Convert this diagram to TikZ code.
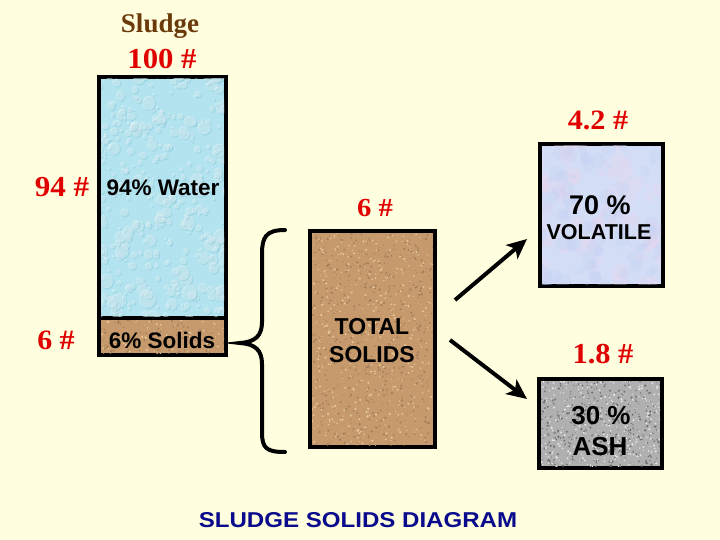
\documentclass[tikz,border=0pt]{standalone}
\usepackage{fontspec}
\setmainfont{Liberation Serif}
\setsansfont{Liberation Sans}
\usetikzlibrary{arrows.meta}
\definecolor{bg}{HTML}{FFFFE0}
\definecolor{redtxt}{HTML}{E00000}
\definecolor{browntxt}{HTML}{6B3A0A}
\definecolor{bluetxt}{HTML}{0A0A8C}
\definecolor{water}{HTML}{B2E3EE}
\definecolor{waterdark}{HTML}{5FB4CC}
\definecolor{cork}{HTML}{C69A6C}
\definecolor{corkdark}{HTML}{8E5E32}
\definecolor{corklight}{HTML}{E6C596}
\definecolor{volatile}{HTML}{D4DDF6}
\definecolor{volpink}{HTML}{E8D6EE}
\definecolor{volblue}{HTML}{BFD0F2}
\definecolor{ash}{HTML}{B0B0B0}
\definecolor{ashdark}{HTML}{6E6E6E}
\definecolor{ashlight}{HTML}{E6E6E6}
\newcommand\wide[2]{\scalebox{#1}[1]{#2}}
\newcommand\mytexture[7]{%
  \foreach \i in {1,...,#5}{%
    \pgfmathsetmacro\px{#1+rnd*#3}%
    \pgfmathsetmacro\py{#2+rnd*#4}%
    \pgfmathsetmacro\pr{0.4+rnd*#7}%
    \fill[#6] (\px,\py) circle[radius=\pr pt];}}
\newcommand\mydrops[5]{%
  \foreach \i in {1,...,#5}{%
    \pgfmathsetmacro\px{#1+rnd*#3}%
    \pgfmathsetmacro\py{#2+rnd*#4}%
    \pgfmathsetmacro\pr{1.5+rnd*rnd*7}%
    \pgfmathsetmacro\pq{\pr*(0.8+rnd*0.5)}%
    \fill[waterdark, opacity=0.28] (\px+0.9,\py+0.9) ellipse[x radius=\pr pt, y radius=\pq pt];
    \fill[white, opacity=0.35] (\px,\py) ellipse[x radius=\pr pt, y radius=\pq pt];}}
\tikzset{
  box/.style={draw=black, line width=4pt, inner sep=0pt, outer sep=0pt},
  wt/.style={text=redtxt, font=\fontsize{28}{30}\selectfont\bfseries},
  lbl/.style={text=black, font=\sffamily\fontsize{22.5}{25}\selectfont\bfseries, align=center},
  flow/.style={line width=4pt, -{Stealth[length=20pt,width=18pt,inset=5pt]}},
  bracel/.style={line width=4pt, line cap=round}
}
\begin{document}
\begin{tikzpicture}[x=1pt,y=-1pt]
\pgfmathsetseed{11}
\fill[bg] (0,0) rectangle (720,540);
\useasboundingbox (0,0) rectangle (720,540);
% boxes
\node[box, fill=water, minimum width=127pt, minimum height=241pt] (waterbox) at (162.5,197.5) {};
\node[box, fill=cork, minimum width=127pt, minimum height=37pt] (solidsbox) at (162.5,336.5) {};
\node[box, fill=cork, minimum width=125pt, minimum height=216pt] (total) at (372.5,339) {};
\node[box, fill=volatile, minimum width=123pt, minimum height=142pt] (volbox) at (601.5,215) {};
\node[box, fill=ash, minimum width=123pt, minimum height=89pt] (ashbox) at (600.5,423.5) {};
% textures
\begin{scope}
\clip (101,79) rectangle (224,316);
\mydrops{95}{72}{135}{250}{380}
\end{scope}
\begin{scope}
\clip (101,320) rectangle (224,353);
\mytexture{99}{318}{127}{37}{120}{corkdark!80}{0.9}
\mytexture{99}{318}{127}{37}{90}{corklight}{0.9}
\end{scope}
\begin{scope}
\clip (312,233) rectangle (433,445);
\mytexture{310}{231}{125}{216}{650}{corkdark!80}{0.9}
\mytexture{310}{231}{125}{216}{500}{corklight}{0.9}
\end{scope}
\begin{scope}
\clip (542,146) rectangle (661,284);
\mytexture{535}{140}{130}{150}{120}{volpink, opacity=0.3}{8}
\mytexture{535}{140}{130}{150}{120}{volblue, opacity=0.25}{8}
\end{scope}
\begin{scope}
\clip (541,381) rectangle (660,466);
\mytexture{539}{379}{123}{89}{450}{ashdark}{0.8}
\mytexture{539}{379}{123}{89}{350}{ashlight}{0.8}
\end{scope}
% labels
\node[text=browntxt, font=\fontsize{27}{30}\selectfont\bfseries] (sludge) at (160,26) {Sludge};
\node[wt, font=\fontsize{29}{31}\selectfont\bfseries] (hundred) at (162,59) {\wide{1.06}{100 \#}};
\node[wt, font=\fontsize{29}{31}\selectfont\bfseries] (ninetyfour) at (62,187) {\wide{1.07}{94 \#}};
\node[lbl] (waterlbl) at (163,188) {94\% Water};
\node[wt] (sixleft) at (56,340) {\wide{1.07}{6 \#}};
\node[lbl] (solidslbl) at (162,340) {6\% Solids};
% brace
\draw[bracel] (285,230) .. controls (266,230) and (262,237) .. (262,254) -- (262,322) .. controls (262,336) and (255,342) .. (240,343) .. controls (255,344) and (262,350) .. (262,364) -- (262,432) .. controls (262,448) and (266,452) .. (285,452);
\node[wt, font=\fontsize{26}{28}\selectfont\bfseries] (sixtop) at (375,208) {\wide{1.1}{6 \#}};
\node[lbl, font=\sffamily\fontsize{23}{28}\selectfont\bfseries] (totallbl) at (372,341) {TOTAL\\SOLIDS};
\node[wt] (fourtwo) at (598,120) {\wide{1.08}{4.2 \#}};
\node[lbl, font=\sffamily\fontsize{27}{29}\selectfont\bfseries] (seventy) at (600,205) {70 \%};
\node[lbl, font=\sffamily\fontsize{21.5}{24}\selectfont\bfseries] (vollbl) at (599,232) {VOLATILE};
\node[wt, font=\fontsize{29}{31}\selectfont\bfseries] (oneeight) at (603,354) {\wide{1.05}{1.8 \#}};
\node[lbl, font=\sffamily\fontsize{26}{28}\selectfont\bfseries] (thirty) at (601,416) {30 \%};
\node[lbl, font=\sffamily\fontsize{26}{28}\selectfont\bfseries] (ashlbl) at (600,447) {ASH};
% arrows
\coordinate (upstart) at (455,300);
\coordinate (upend) at (527,239);
\coordinate (downstart) at (450,340);
\coordinate (downend) at (527,399);
\draw[flow] (upstart) -- (upend);
\draw[flow] (downstart) -- (downend);
% title
\node[text=bluetxt, font=\sffamily\fontsize{21.5}{24}\selectfont\bfseries] (title) at (358,520) {\wide{1.12}{SLUDGE SOLIDS DIAGRAM}};
\end{tikzpicture}
\end{document}
